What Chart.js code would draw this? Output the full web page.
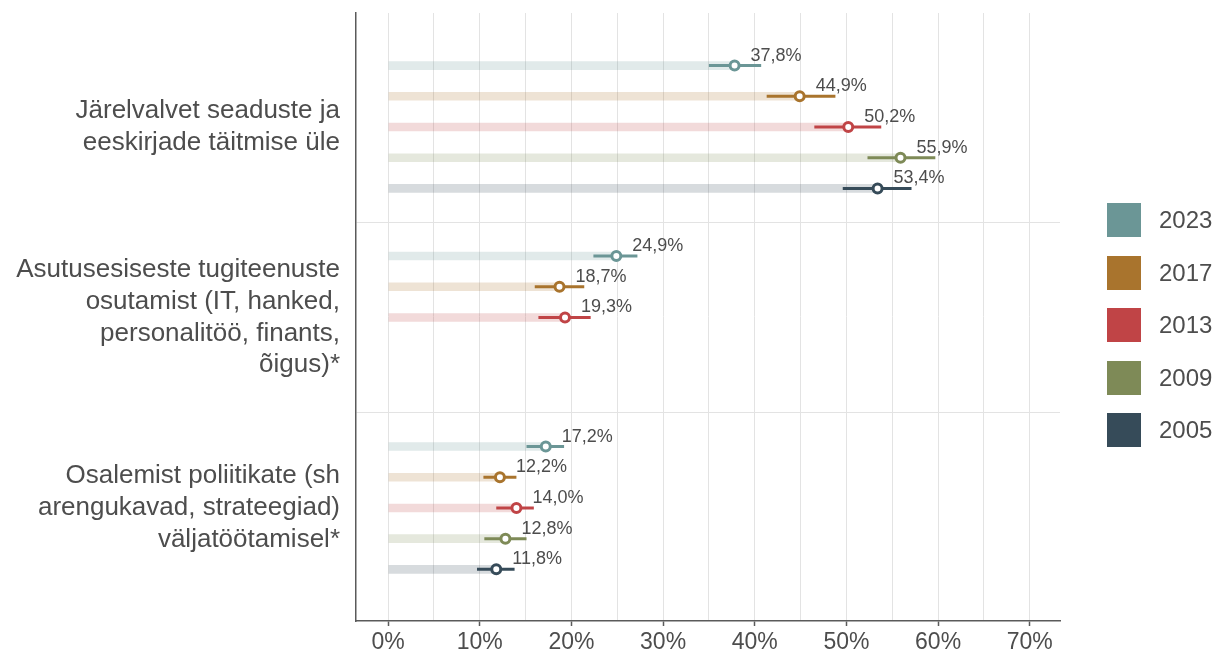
<!DOCTYPE html>
<html lang="et">
<head>
  <meta charset="UTF-8" />
  <title>Järelvalve ja tugiteenused</title>
  <script src="https://cdn.jsdelivr.net/npm/chart.js@4.4.0/dist/chart.umd.min.js"></script>
  <style>
    body { margin: 0; background: #fff; font-family: "Liberation Sans", Arial, sans-serif; }
    #wrap { position: relative; width: 1217px; height: 653px; }
    #legend { position: absolute; left: 1107px; top: 203px; }
    .item { display: flex; align-items: center; height: 34px; margin-bottom: 18.5px; }
    .box { width: 34px; height: 34px; margin-right: 18px; }
    .item span { font-size: 24px; color: #4d4d4d; }
  </style>
</head>
<body>
  <div id="wrap">
    <canvas id="chart"></canvas>
    <div id="legend"></div>
  </div>

  <script>
    const categories = [
      ['Järelvalvet seaduste ja', 'eeskirjade täitmise üle'],
      ['Asutusesiseste tugiteenuste', 'osutamist (IT, hanked,', 'personalitöö, finants,', 'õigus)*'],
      ['Osalemist poliitikate (sh', 'arengukavad, strateegiad)', 'väljatöötamisel*']
    ];
    const years = ['2023', '2017', '2013', '2009', '2005'];
    const colors = ['#6b9696', '#a9742d', '#c04446', '#7e8a57', '#364b59'];

    // point estimates (%)
    const val2023 = [37.8, 24.9, 17.2];
    const val2017 = [44.9, 18.7, 12.2];
    const val2013 = [50.2, 19.3, 14.0];
    const val2009 = [55.9, null, 12.8];
    const val2005 = [53.4, null, 11.8];

    // confidence interval ends (%)
    const low2023 = [35.0, 22.4, 15.1];
    const high2023 = [40.7, 27.2, 19.2];
    const low2017 = [41.3, 16.0, 10.4];
    const high2017 = [48.8, 21.4, 14.0];
    const low2013 = [46.5, 16.4, 11.8];
    const high2013 = [53.8, 22.1, 15.9];
    const low2009 = [52.3, null, 10.5];
    const high2009 = [59.7, null, 15.1];
    const low2005 = [49.6, null, 9.7];
    const high2005 = [57.1, null, 13.8];

    const values = [val2023, val2017, val2013, val2009, val2005];
    const lows = [low2023, low2017, low2013, low2009, low2005];
    const highs = [high2023, high2017, high2013, high2009, high2005];

    function faint(hex, a) {
      const n = parseInt(hex.slice(1), 16);
      return 'rgba(' + (n >> 16) + ',' + ((n >> 8) & 255) + ',' + (n & 255) + ',' + a + ')';
    }

    const textColor = '#4d4d4d';
    const gridColor = '#e3e3e3';
    const axisColor = '#5a5a5a';

    function noPad(s) {
      s.paddingTop = 0; s.paddingBottom = 0; s.paddingLeft = 0; s.paddingRight = 0;
    }

    // error bars, markers and value labels on top of the faint bars
    const ciPlugin = {
      id: 'ci',
      afterDatasetsDraw(chart) {
        const ctx = chart.ctx;
        const xs = chart.scales.x;
        ctx.save();
        values.forEach((vals, d) => {
          const meta = chart.getDatasetMeta(d);
          vals.forEach((v, j) => {
            if (v === null) return;
            const el = meta.data[j];
            const y = el.y;
            const px = xs.getPixelForValue(v);
            ctx.strokeStyle = colors[d];
            ctx.lineWidth = 3;
            ctx.beginPath();
            ctx.moveTo(xs.getPixelForValue(lows[d][j]), y);
            ctx.lineTo(xs.getPixelForValue(highs[d][j]), y);
            ctx.stroke();

            ctx.beginPath();
            ctx.arc(px, y, 4.5, 0, Math.PI * 2);
            ctx.fillStyle = '#fff';
            ctx.fill();
            ctx.lineWidth = 3;
            ctx.stroke();

            ctx.fillStyle = textColor;
            ctx.font = '18px "Liberation Sans", Arial, sans-serif';
            ctx.textAlign = 'left';
            ctx.textBaseline = 'alphabetic';
            ctx.fillText(v.toFixed(1).replace('.', ',') + '%', px + 16, y - 5);
          });
        });
        ctx.restore();
      }
    };

    const datasets = years.map((yr, i) => ({
      label: yr,
      data: values[i],
      backgroundColor: faint(colors[i], 0.2),
      borderWidth: 0,
      categoryPercentage: 0.806,
      barPercentage: 0.28
    }));

    new Chart(document.getElementById('chart'), {
      type: 'bar',
      data: { labels: categories, datasets: datasets },
      options: {
        indexAxis: 'y',
        responsive: true,
        maintainAspectRatio: false,
        animation: false,
        layout: { padding: { top: 13, right: 157, left: 0, bottom: 0 } },
        plugins: {
          legend: { display: false },
          tooltip: { enabled: false }
        },
        scales: {
          x: {
            type: 'linear',
            min: -3.5,
            max: 73.3,
            afterFit: s => { s.height = 32; noPad(s); },
            ticks: {
              stepSize: 5,
              includeBounds: false,
              autoSkip: false,
              maxRotation: 0,
              padding: 3,
              color: textColor,
              font: { family: '"Liberation Sans", Arial, sans-serif', size: 23 },
              callback: v => (v % 10 === 0 ? v + '%' : '')
            },
            grid: {
              color: gridColor,
              lineWidth: 1,
              tickLength: 5,
              tickWidth: 1.5,
              tickColor: c => (c.tick && c.tick.value % 10 === 0 ? axisColor : 'rgba(0,0,0,0)')
            },
            border: { color: axisColor, width: 1.5 }
          },
          y: {
            type: 'category',
            afterFit: s => { s.width = 356; noPad(s); },
            afterBuildTicks: s => { s._startValue = -0.5985; s._valueRange = 3.192; },
            ticks: {
              padding: 16,
              color: textColor,
              font: { family: '"Liberation Sans", Arial, sans-serif', size: 26, lineHeight: 1.22 }
            },
            grid: {
              offset: true,
              drawTicks: false,
              color: c => (c.index === 1 || c.index === 2 ? gridColor : 'rgba(0,0,0,0)')
            },
            border: { color: axisColor, width: 1.5 }
          }
        }
      },
      plugins: [ciPlugin]
    });

    const legend = document.getElementById('legend');
    years.forEach((yr, i) => {
      const item = document.createElement('div');
      item.className = 'item';
      item.innerHTML = '<div class="box" style="background:' + colors[i] + '"></div><span>' + yr + '</span>';
      legend.appendChild(item);
    });
  </script>
</body>
</html>
